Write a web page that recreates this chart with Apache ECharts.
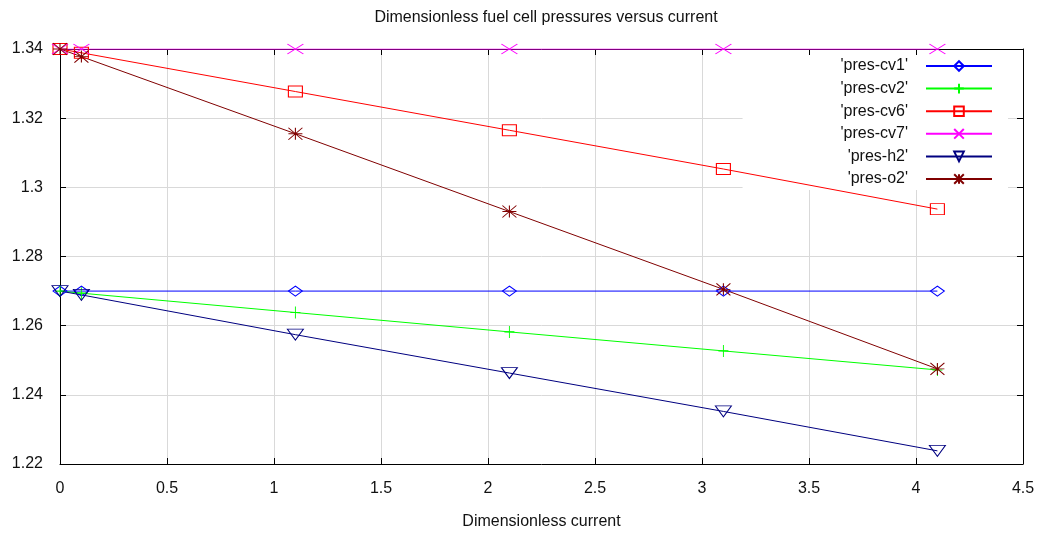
<!DOCTYPE html>
<html>
<head>
<meta charset="utf-8">
<script src="https://cdn.jsdelivr.net/npm/echarts@6/dist/echarts.min.js"></script>
<style>
html,body{margin:0;padding:0;background:#fff;}
#chart{width:1040px;height:535px;}
</style>
</head>
<body>
<div id="chart"></div>
<script>
// Data
var currents = [0, 0.1, 1.1, 2.1, 3.1, 4.1];
var presCv1 = [1.27, 1.27, 1.27, 1.27, 1.27, 1.27];
var presCv2 = [1.27, 1.2694, 1.2638, 1.2582, 1.2527, 1.2472];
var presCv6 = [1.34, 1.3389, 1.3277, 1.3165, 1.3053, 1.2937];
var presCv7 = [1.34, 1.34, 1.34, 1.34, 1.34, 1.34];
var presH2 = [1.27, 1.2689, 1.2574, 1.2463, 1.2352, 1.2238];
var presO2 = [1.34, 1.3378, 1.3155, 1.293, 1.2705, 1.2475];
var seriesNames = ["'pres-cv1'", "'pres-cv2'", "'pres-cv6'", "'pres-cv7'", "'pres-h2'", "'pres-o2'"];
var yTicks = ["1.22", "1.24", "1.26", "1.28", "1.3", "1.32", "1.34"];

var FONT = 'Liberation Sans';
var FS = 16;
var colors = ['#0000ff', '#00ff00', '#ff0000', '#ff00ff', '#000080', '#800000'];
var symbols = [
  'diamond',
  'path://M5,0L5,10M0,5L10,5',
  'rect',
  'path://M0,0L10,10M10,0L0,10',
  'path://M0,0L10,0L5,10Z',
  'path://M0,0L10,10M10,0L0,10M5,0L5,10M0,5L10,5'
];
var sizes = [[14, 10], [10, 12], [14, 11], [16, 10], [16, 11], [14, 12]];
var values = [presCv1, presCv2, presCv6, presCv7, presH2, presO2];

function pairs(v) {
  return currents.map(function (x, i) { return [x, v[i]]; });
}

var series = seriesNames.map(function (name, k) {
  return {
    name: name,
    type: 'line',
    xAxisIndex: 0,
    yAxisIndex: 0,
    z: 3,
    data: pairs(values[k]),
    symbol: symbols[k],
    symbolSize: sizes[k],
    showSymbol: true,
    animation: false,
    lineStyle: { color: colors[k], width: 1 },
    itemStyle: { color: 'rgba(0,0,0,0)', borderColor: colors[k], borderWidth: 1 },
    emphasis: { disabled: true }
  };
});

var chart = echarts.init(document.getElementById('chart'), null, { renderer: 'canvas' });
chart.setOption({
  backgroundColor: '#ffffff',
  animation: false,
  textStyle: { fontFamily: FONT },
  title: {
    text: 'Dimensionless fuel cell pressures versus current',
    left: 541,
    textAlign: 'center',
    top: 5,
    textStyle: { fontFamily: FONT, fontSize: FS, fontWeight: 'normal', color: '#111' }
  },
  grid: { left: 60, right: 17, top: 49, bottom: 67, containLabel: false },
  legend: {
    orient: 'vertical',
    align: 'right',
    right: 32,
    top: 55,
    z: 1,
    padding: [3, 15, 3, 98],
    backgroundColor: '#ffffff',
    itemWidth: 66,
    itemHeight: 12,
    itemGap: 6.6,
    selectedMode: false,
    textStyle: { fontFamily: FONT, fontSize: FS, color: '#111', padding: [0, 13, 0, 0] },
    data: seriesNames
  },
  xAxis: [{
    type: 'value',
    min: 0, max: 4.5, interval: 0.5,
    name: 'Dimensionless current',
    nameLocation: 'middle',
    nameGap: 50,
    nameTextStyle: { fontFamily: FONT, fontSize: FS, color: '#111' },
    axisLine: { show: true, onZero: false, lineStyle: { color: '#000', width: 1 } },
    axisTick: { show: true, inside: true, length: 6, lineStyle: { color: '#000' } },
    axisLabel: { margin: 17, fontFamily: FONT, fontSize: FS, color: '#111' },
    splitLine: { show: true, lineStyle: { color: '#d9d9d9', width: 1 } }
  }, {
    type: 'value',
    position: 'top',
    min: 0, max: 4.5, interval: 0.5,
    axisLine: { show: true, onZero: false, lineStyle: { color: '#000', width: 1 } },
    axisTick: { show: true, inside: true, length: 6, lineStyle: { color: '#000' } },
    axisLabel: { show: false },
    splitLine: { show: false }
  }],
  yAxis: [{
    type: 'value',
    min: 1.22, max: 1.34, interval: 0.02,
    axisLine: { show: true, onZero: false, lineStyle: { color: '#000', width: 1 } },
    axisTick: { show: true, inside: true, length: 6, lineStyle: { color: '#000' } },
    axisLabel: {
      margin: 17, fontFamily: FONT, fontSize: FS, color: '#111',
      formatter: function (v) {
        var idx = Math.round((v - 1.22) / 0.02);
        return yTicks[idx] !== undefined ? yTicks[idx] : String(v);
      }
    },
    splitLine: { show: true, lineStyle: { color: '#d9d9d9', width: 1 } }
  }, {
    type: 'value',
    position: 'right',
    min: 1.22, max: 1.34, interval: 0.02,
    axisLine: { show: true, onZero: false, lineStyle: { color: '#000', width: 1 } },
    axisTick: { show: true, inside: true, length: 6, lineStyle: { color: '#000' } },
    axisLabel: { show: false },
    splitLine: { show: false }
  }],
  series: series
});
</script>
</body>
</html>
